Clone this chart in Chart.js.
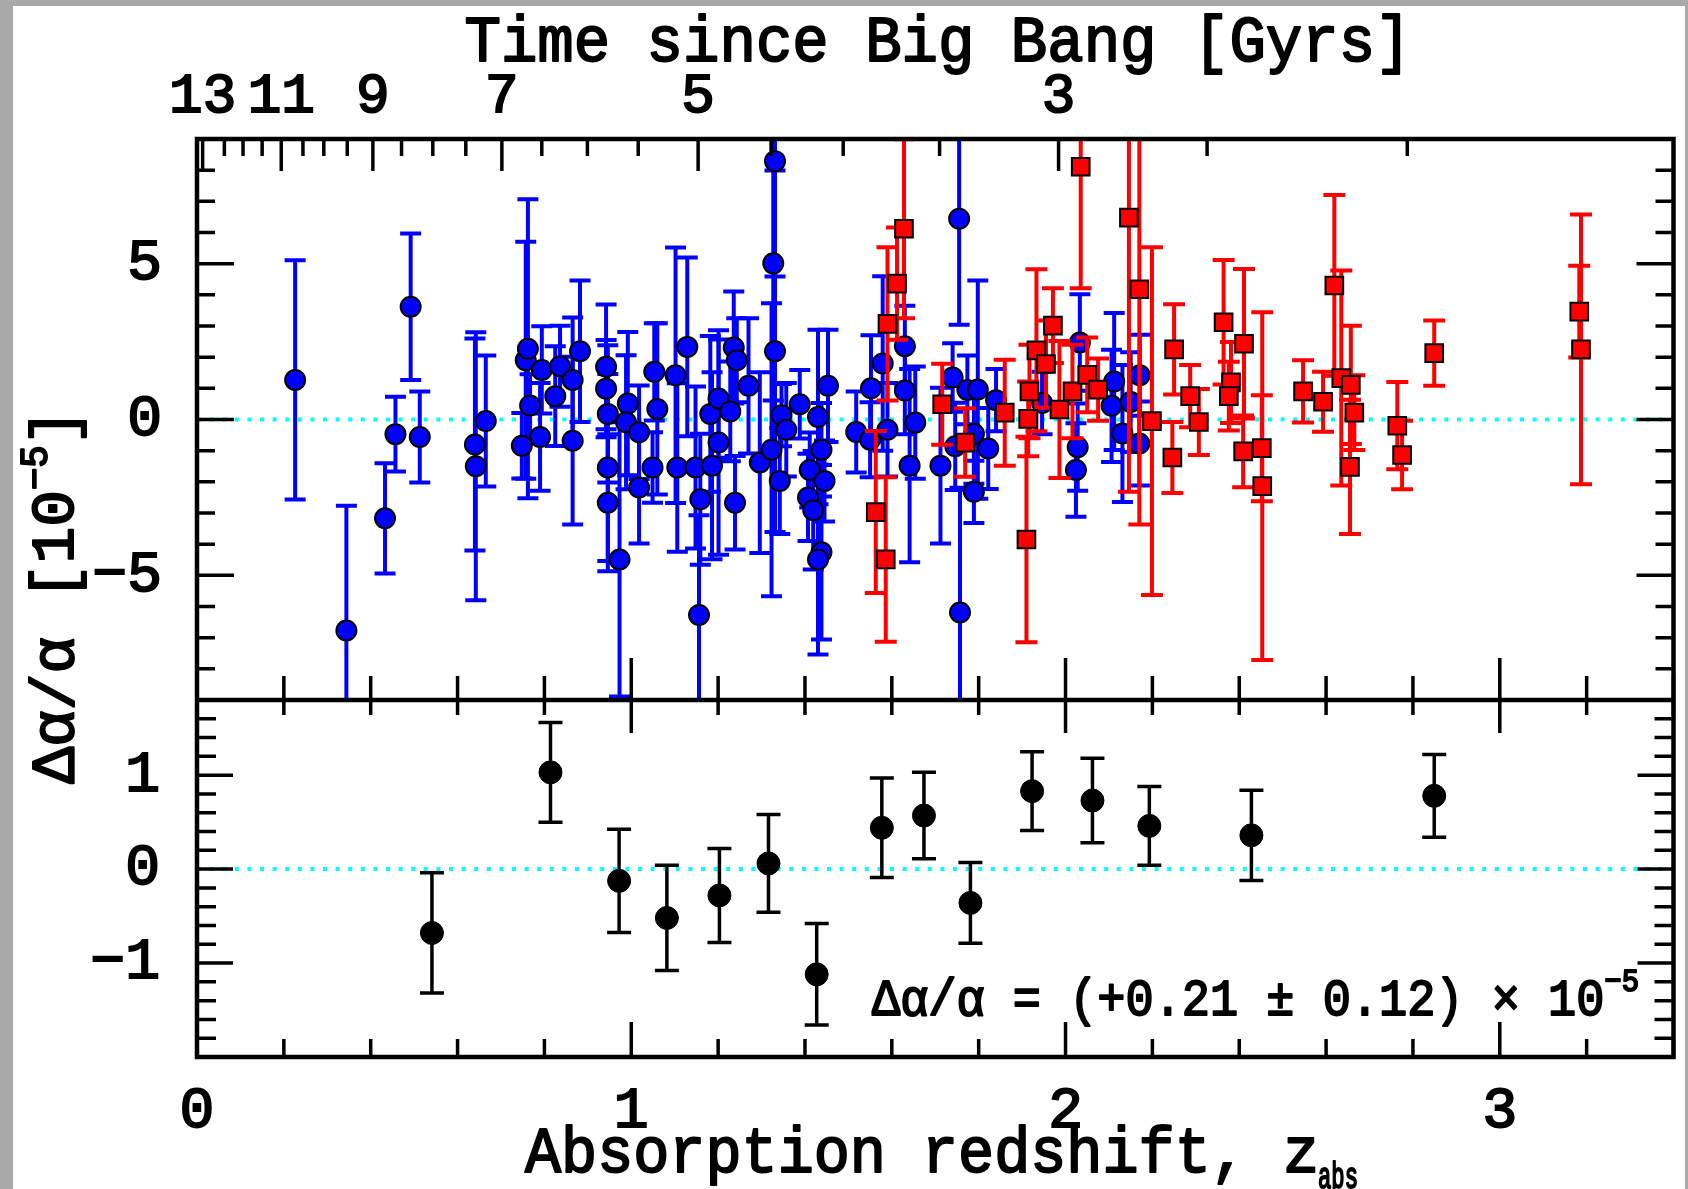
<!DOCTYPE html>
<html>
<head>
<meta charset="utf-8">
<script src="https://cdn.jsdelivr.net/npm/chart.js@4.4.0/dist/chart.umd.min.js"></script>
<style>
  html, body { margin: 0; padding: 0; background: #a9a9a9; }
</style>
</head>
<body>
<canvas id="myChart" width="1688" height="1189"></canvas>
<script>
// Keck absorbers (blue circles): redshift, da/a [1e-5], 1 sigma error
const keckZ = [0.226,0.344,0.433,0.457,0.492,0.513,0.640,0.642,0.665,0.748,0.757,0.762,0.767,0.790,0.794,0.825,0.836,0.865,0.865,0.882,
  0.942,0.942,0.946,0.946,0.946,0.973,0.992,0.988,1.018,1.018,1.049,1.053,1.060,1.102,1.106,1.129,1.148,1.159,1.156,1.182,1.186,
  1.201,1.201,1.236,1.243,1.228,1.270,1.239,1.296,1.323,1.331,1.327,1.331,1.346,1.357,1.342,1.388,1.453,1.430,1.438,1.411,1.445,1.407,1.419,1.438,1.430,
  1.518,1.550,1.552,1.579,1.590,1.630,1.630,1.654,1.641,1.712,1.740,1.755,1.757,1.746,1.774,1.798,1.789,1.789,1.822,1.840,
  1.946,2.033,2.028,2.024,2.112,2.106,2.131,2.150,2.171,2.170];
const keckDa = [1.27,-6.77,-3.17,-0.47,3.62,-0.56,-0.80,-1.50,-0.05,-0.84,1.90,2.27,0.45,-0.56,1.59,0.75,1.71,1.27,-0.68,2.19,
  1.69,0.99,0.18,-1.54,-2.67,-4.49,0.51,-0.09,-0.41,-2.18,-1.54,1.53,0.34,1.42,-1.54,2.33,-1.54,-2.56,-6.27,0.18,-1.48,
  0.67,-0.74,2.31,1.90,0.26,1.08,-2.67,-1.38,-0.97,8.29,5.01,2.19,0.14,-0.33,-1.97,0.49,1.08,0.08,-0.97,-1.62,-1.97,-2.50,-2.91,-4.26,-4.49,
  -0.40,-0.65,1.00,1.80,-0.33,2.35,0.93,-0.10,-1.48,-1.48,1.35,6.44,-6.19,-0.86,0.95,0.96,-0.46,-2.32,-0.93,0.62,
  0.53,2.47,-0.89,-1.62,1.22,0.44,-0.45,0.56,1.42,-0.77];
const keckErr = [3.84,4.0,1.77,1.2,2.35,1.46,3.4,4.3,2.1,1.05,3.8,4.8,1.0,1.73,1.4,1.6,1.3,2.0,2.69,2.27,
  2.0,1.56,2.2,3.0,2.2,4.4,2.3,2.15,1.5,1.8,1.13,1.56,2.75,4.1,2.7,2.87,2.6,2.1,3.2,2.5,3.0,
  1.9,3.6,1.8,1.35,1.6,2.17,1.5,2.9,4.7,3.7,4.4,5.8,1.0,1.5,1.7,1.1,1.8,2.8,1.5,1.2,1.3,1.4,1.9,2.8,3.05,
  1.3,1.2,1.7,2.8,1.5,1.3,1.4,1.8,3.1,2.5,1.1,3.4,4.0,1.4,1.1,3.5,1.6,1.0,1.3,1.0,
  1.0,1.55,1.4,1.5,2.2,1.8,2.2,1.6,1.3,1.35];

// VLT absorbers (red squares)
const vltZ = [1.563,1.586,1.590,1.612,1.628,1.716,1.769,1.860,1.910,1.914,1.917,1.933,1.955,1.971,1.986,2.016,2.035,2.050,2.075,
  2.146,2.170,2.199,2.250,2.246,2.287,2.307,2.364,2.381,2.376,2.411,2.409,2.452,2.453,2.547,2.593,2.619,2.635,2.657,2.665,2.655,
  2.764,2.775,2.849,3.183,3.187];
const vltDa = [-2.97,-4.49,3.07,4.36,6.12,0.49,-0.74,0.22,-3.85,0.02,0.90,2.22,1.78,3.01,0.32,0.90,8.11,1.43,0.96,
  6.48,4.18,-0.05,2.25,-1.22,0.75,-0.08,3.12,1.19,0.75,2.43,-1.02,-0.92,-2.14,0.90,0.57,4.30,1.33,1.11,0.22,-1.52,
  -0.20,-1.14,2.13,3.46,2.25];
const vltErr = [2.6,2.64,2.46,1.8,2.87,1.3,1.1,1.7,3.3,1.2,1.5,2.6,1.4,1.2,2.2,1.5,3.9,1.2,1.0,
  8.8,7.55,5.58,1.45,1.14,1.0,1.06,2.0,1.3,1.1,2.4,1.15,1.7,5.58,1.0,0.96,2.9,3.45,1.9,1.2,2.15,
  1.4,1.1,1.05,1.47,4.33];

// binned combined sample (lower panel)
const binZ = [0.541,0.814,0.972,1.082,1.203,1.316,1.427,1.577,1.674,1.781,1.923,2.062,2.193,2.428,2.849];
const binDa = [-0.68,1.03,-0.125,-0.52,-0.28,0.06,-1.12,0.44,0.57,-0.36,0.83,0.73,0.46,0.36,0.78];
const binErr = [0.64,0.53,0.55,0.56,0.5,0.52,0.54,0.53,0.46,0.43,0.42,0.45,0.42,0.48,0.44];

// top axis: time since Big Bang (Gyr) and the redshift where each tick sits
const timeTickGyr = [13,12.5,12,11.5,11,10.5,10,9.5,9,8.5,8,7.5,7,6.5,6,5.5,5,4.5,4,3.5,3,2.5,2];
const timeTickZ = [0.013,0.063,0.106,0.150,0.194,0.244,0.292,0.346,0.405,0.471,0.543,0.619,0.702,0.794,0.899,1.016,1.154,1.322,1.488,1.710,1.984,2.326,2.787];
const timeLabelGyr = [13,11,9,7,5,3];

const zTicks = [0,1,2,3];
const topTicks = [-5,0,5];
const bottomTicks = [-1,0,1];

const FONT = '"Liberation Mono", "DejaVu Sans Mono", monospace';

function pts(xs, ys, es) {
  return xs.map((x, i) => ({x: x, y: ys[i], e: es[i]}));
}

// error bars drawn under each dataset's markers, clipped to that panel
const errorBars = {
  id: 'errorBars',
  beforeDatasetDraw(chart, args) {
    const meta = args.meta;
    const ds = chart.data.datasets[args.index];
    const xs = meta.xScale, ys = meta.yScale;
    const c = chart.ctx;
    const cap = ds.capHalf;
    c.save();
    c.beginPath();
    c.rect(xs.left, ys.top, xs.right - xs.left, ys.bottom - ys.top);
    c.clip();
    c.strokeStyle = ds.errColor;
    c.lineWidth = ds.errWidth;
    ds.data.forEach(p => {
      const x = xs.getPixelForValue(p.x);
      const hi = ys.getPixelForValue(p.y + p.e);
      const lo = ys.getPixelForValue(p.y - p.e);
      c.beginPath();
      c.moveTo(x, lo); c.lineTo(x, hi);
      c.moveTo(x - cap, lo); c.lineTo(x + cap, lo);
      c.moveTo(x - cap, hi); c.lineTo(x + cap, hi);
      c.stroke();
    });
    c.restore();
  }
};

const zeroLines = {
  id: 'zeroLines',
  beforeDatasetsDraw(chart) {
    const c = chart.ctx, x = chart.scales.x;
    c.save();
    c.strokeStyle = '#00ffff';
    c.lineWidth = 4;
    c.setLineDash([4, 8.6]);
    [chart.scales.y, chart.scales.y2].forEach(s => {
      const p = s.getPixelForValue(0);
      c.beginPath(); c.moveTo(x.left, p); c.lineTo(x.right, p); c.stroke();
    });
    c.restore();
  }
};

// inward ticks and the box frame
const frame = {
  id: 'frame',
  afterDatasetsDraw(chart) {
    const c = chart.ctx;
    const x = chart.scales.x, yt = chart.scales.y, yb = chart.scales.y2;
    const L = x.left, R = x.right;
    c.save();
    c.strokeStyle = '#000';
    c.lineWidth = 3.5;
    c.beginPath();
    for (let v = -9; v <= 9; v++) {
      const p = yt.getPixelForValue(v), len = v % 5 === 0 ? 37 : 18;
      c.moveTo(L, p); c.lineTo(L + len, p);
      c.moveTo(R, p); c.lineTo(R - len, p);
    }
    for (let k = -10; k <= 9; k++) {
      const p = yb.getPixelForValue(k / 5), len = k % 5 === 0 ? 36 : 19;
      c.moveTo(L, p); c.lineTo(L + len, p);
      c.moveTo(R, p); c.lineTo(R - len, p);
    }
    for (let k = 1; k <= 17; k++) {
      const px = x.getPixelForValue(k / 5), major = k % 5 === 0;
      c.moveTo(px, yt.bottom); c.lineTo(px, yt.bottom - (major ? 42 : 24));
      c.moveTo(px, yb.top); c.lineTo(px, yb.top + (major ? 33 : 15));
      c.moveTo(px, yb.bottom); c.lineTo(px, yb.bottom - (major ? 35 : 18));
    }
    timeTickZ.forEach((z, i) => {
      const px = x.getPixelForValue(z);
      const major = timeLabelGyr.includes(timeTickGyr[i]);
      c.moveTo(px, yt.top); c.lineTo(px, yt.top + (major ? 32 : 17));
    });
    c.stroke();
    c.lineWidth = 4.5;
    c.strokeRect(L, yt.top, R - L, yb.bottom - yt.top);
    c.beginPath(); c.moveTo(L, yb.top); c.lineTo(R, yb.top); c.stroke();
    c.restore();
  }
};

function richText(c, parts, x, y, width, align) {
  let total = 0;
  parts.forEach(p => {
    c.font = p.size + 'px ' + FONT;
    p.w = c.measureText(p.t).width;
    total += p.w;
  });
  const k = width / total;
  c.save();
  c.translate(align === 'center' ? x - width / 2 : x, y);
  c.scale(k, 1);
  c.lineWidth = 2;
  c.strokeStyle = '#000';
  c.lineJoin = 'round';
  let cx = 0;
  parts.forEach(p => {
    c.font = p.size + 'px ' + FONT;
    c.fillText(p.t, cx, p.dy || 0);
    c.strokeText(p.t, cx, p.dy || 0);
    cx += p.w;
  });
  c.restore();
}

const texts = {
  id: 'texts',
  beforeDraw(chart) {
    const c = chart.ctx;
    c.save();
    c.fillStyle = '#a9a9a9';
    c.fillRect(0, 0, chart.width, chart.height);
    c.fillStyle = '#ffffff';
    c.fillRect(13, 6, 1672, chart.height - 6);
    c.restore();
  },
  afterDraw(chart) {
    const c = chart.ctx;
    c.save();
    c.fillStyle = '#000';
    c.textAlign = 'left';
    c.textBaseline = 'alphabetic';
    richText(c, [{t: 'Time since Big Bang [Gyrs]', size: 64}], 938, 61, 947, 'center');
    richText(c, [{t: 'Absorption redshift, z', size: 64}], 525, 1172, 794, 'left');
    richText(c, [{t: 'abs', size: 36}], 1318, 1188, 40, 'left');
    richText(c, [{t: 'Δα/α = (+0.21 ± 0.12) × 10', size: 52}, {t: '−5', size: 32, dy: -24}], 872, 1015, 767, 'left');
    c.translate(73, 596);
    c.rotate(-Math.PI / 2);
    richText(c, [{t: 'Δα/α [10', size: 62}, {t: '−5', size: 38, dy: -26}, {t: ']', size: 62}], 0, 0, 375, 'center');
    c.restore();
  }
};

const tickFont = {family: FONT, size: 58};
const minus = v => String(v).replace('-', '\u2212');

new Chart(document.getElementById('myChart'), {
  type: 'scatter',
  data: {
    datasets: [
      {
        label: 'VLT', data: pts(vltZ, vltDa, vltErr), yAxisID: 'y', order: 1,
        pointStyle: 'rect', pointRadius: 12.5, backgroundColor: '#ff0000', borderColor: '#000', borderWidth: 2,
        errColor: '#ff0000', errWidth: 4, capHalf: 11
      },
      {
        label: 'Keck', data: pts(keckZ, keckDa, keckErr), yAxisID: 'y', order: 2,
        pointStyle: 'circle', pointRadius: 10, backgroundColor: '#0000ff', borderColor: '#000', borderWidth: 2,
        errColor: '#0000ff', errWidth: 4, capHalf: 10.5
      },
      {
        label: 'Binned', data: pts(binZ, binDa, binErr), yAxisID: 'y2', order: 3,
        pointStyle: 'circle', pointRadius: 11.5, backgroundColor: '#000', borderColor: '#000', borderWidth: 1,
        errColor: '#000', errWidth: 3.5, capHalf: 12
      }
    ]
  },
  options: {
    responsive: false,
    animation: false,
    events: [],
    layout: {padding: {left: 0, right: 5, top: 0, bottom: 0}},
    plugins: {legend: {display: false}, tooltip: {enabled: false}},
    scales: {
      x: {
        type: 'linear', position: 'bottom', min: 0, max: 3.4,
        grid: {display: false, drawTicks: false}, border: {display: false},
        afterBuildTicks: s => { s.ticks = zTicks.map(v => ({value: v})); },
        afterFit: s => { s.height = 132; },
        ticks: {color: '#000', font: tickFont, textStrokeColor: '#000', textStrokeWidth: 2, padding: 20, maxRotation: 0, autoSkip: false}
      },
      x2: {
        type: 'linear', position: 'top', min: 0, max: 3.4,
        grid: {display: false, drawTicks: false}, border: {display: false},
        afterBuildTicks: s => {
          s.ticks = timeLabelGyr.map(g => ({value: timeTickZ[timeTickGyr.indexOf(g)]}));
        },
        afterFit: s => { s.height = 139; },
        ticks: {
          color: '#000', font: {family: FONT, size: 56}, textStrokeColor: '#000', textStrokeWidth: 2,
          padding: 8, maxRotation: 0, autoSkip: false,
          callback: (v, i) => String(timeLabelGyr[i])
        }
      },
      y2: {
        type: 'linear', position: 'left', stack: 'panels', stackWeight: 357, min: -2, max: 1.8,
        grid: {display: false, drawTicks: false}, border: {display: false},
        afterBuildTicks: s => { s.ticks = bottomTicks.map(v => ({value: v})); },
        afterFit: s => { s.width = 197; },
        ticks: {color: '#000', font: tickFont, textStrokeColor: '#000', textStrokeWidth: 2, padding: 37, callback: minus}
      },
      y: {
        type: 'linear', position: 'left', stack: 'panels', stackWeight: 561, min: -9, max: 9,
        grid: {display: false, drawTicks: false}, border: {display: false},
        afterBuildTicks: s => { s.ticks = topTicks.map(v => ({value: v})); },
        afterFit: s => { s.width = 197; },
        ticks: {color: '#000', font: tickFont, textStrokeColor: '#000', textStrokeWidth: 2, padding: 35, callback: minus}
      }
    }
  },
  plugins: [texts, zeroLines, errorBars, frame]
});
</script>
</body>
</html>
